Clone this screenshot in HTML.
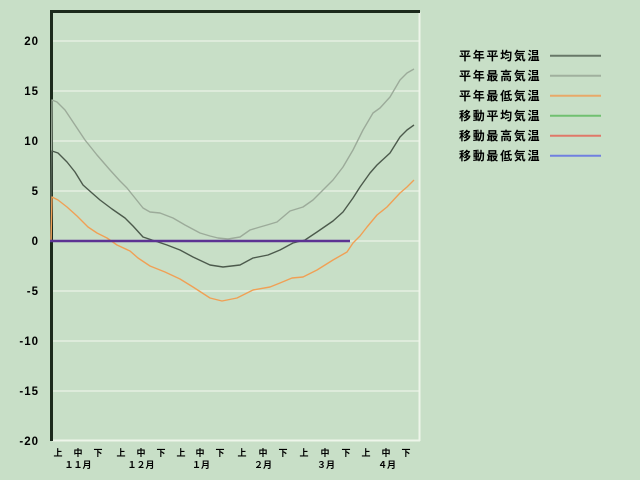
<!DOCTYPE html>
<html><head><meta charset="utf-8"><style>
html,body{margin:0;padding:0;background:#c8dfc7;}
svg{display:block;}
.y{font-family:"Liberation Sans",sans-serif;font-weight:bold;font-size:11.5px;fill:#000;letter-spacing:1px;}
.x{font-family:"Liberation Sans","Noto Sans CJK JP",sans-serif;font-weight:bold;font-size:9px;fill:#000;}
.l{font-family:"Liberation Sans","Noto Sans CJK JP",sans-serif;font-weight:bold;font-size:12px;fill:#000;letter-spacing:1.7px;}
</style></head><body>
<svg width="640" height="480" viewBox="0 0 640 480" xmlns="http://www.w3.org/2000/svg">
<rect width="640" height="480" fill="#c8dfc7"/>
<!-- gridlines -->
<g stroke="#e6efe2" stroke-width="1.6">
<line x1="52" y1="41" x2="419" y2="41"/>
<line x1="52" y1="91" x2="419" y2="91"/>
<line x1="52" y1="141" x2="419" y2="141"/>
<line x1="52" y1="191" x2="419" y2="191"/>
<line x1="52" y1="241" x2="419" y2="241"/>
<line x1="52" y1="291" x2="419" y2="291"/>
<line x1="52" y1="341" x2="419" y2="341"/>
<line x1="52" y1="391" x2="419" y2="391"/>
</g>
<!-- frame -->
<line x1="52" y1="440.5" x2="420" y2="440.5" stroke="#eef5ea" stroke-width="2"/>
<line x1="419.5" y1="12" x2="419.5" y2="441" stroke="#eef5ea" stroke-width="2"/>
<rect x="50" y="10" width="370" height="3" fill="#1c2a1c"/>
<rect x="50" y="10" width="3" height="431" fill="#1c2a1c"/>
<!-- series -->
<g fill="none" stroke-width="1.4" stroke-linejoin="round">
<path stroke="#9cab9a" d="M50,241 L51,241 L52,100 L57,102 L65,110 L75,125 L85,140 L97,155 L110,170 L120,181 L127,188 L135,198 L143,208 L150,212 L160,213 L173,218 L185,225 L200,233 L210,236 L218,238 L228,239 L240,237 L250,230 L260,227 L267,225 L277,222 L290,211 L303,207 L313,200 L323,190 L333,180 L343,167 L353,150 L363,130 L373,113 L380,108 L390,97 L400,80 L407,73 L414,69"/>
<path stroke="#4c5a4c" d="M50,241 L51,241 L52,151 L58,153 L67,162 L75,172 L83,185 L92,193 L100,200 L112,209 L125,218 L133,226 L143,237 L155,241 L167,245 L180,250 L193,257 L210,265 L223,267 L240,265 L253,258 L268,255 L280,250 L293,243 L305,240 L317,232 L333,221 L343,212 L353,198 L360,187 L370,173 L377,165 L390,153 L400,137 L407,130 L414,125"/>
<path stroke="#f0a055" d="M50,241 L51,241 L52,197 L58,200 L67,207 L77,216 L88,227 L97,233 L107,238 L117,245 L130,251 L138,258 L150,266 L165,272 L180,279 L193,287 L210,298 L222,301 L237,298 L253,290 L270,287 L280,283 L292,278 L303,277 L317,270 L333,260 L347,252 L353,243 L360,236 L367,227 L377,215 L387,207 L400,193 L407,187 L414,180"/>
</g>
<line x1="50" y1="241" x2="350" y2="241" stroke="#5c3393" stroke-width="2.5"/>
<!-- y labels -->
<g class="y" text-anchor="end">
<text x="39" y="45">20</text>
<text x="39" y="95">15</text>
<text x="39" y="145">10</text>
<text x="39" y="195">5</text>
<text x="39" y="245">0</text>
<text x="39" y="295">-5</text>
<text x="39" y="345">-10</text>
<text x="39" y="395">-15</text>
<text x="39" y="445">-20</text>
</g>
<!-- x labels -->
<g class="x" text-anchor="middle">
<text x="58" y="456">上</text><text x="78" y="456">中</text><text x="98" y="456">下</text>
<text x="121" y="456">上</text><text x="141" y="456">中</text><text x="161" y="456">下</text>
<text x="181" y="456">上</text><text x="200" y="456">中</text><text x="220" y="456">下</text>
<text x="242" y="456">上</text><text x="263" y="456">中</text><text x="283" y="456">下</text>
<text x="304" y="456">上</text><text x="325" y="456">中</text><text x="346" y="456">下</text>
<text x="366" y="456">上</text><text x="386" y="456">中</text><text x="406" y="456">下</text>
<text x="78" y="468">１１月</text>
<text x="141" y="468">１２月</text>
<text x="201" y="468">１月</text>
<text x="263" y="468">２月</text>
<text x="326" y="468">３月</text>
<text x="387" y="468">４月</text>
</g>
<!-- legend -->
<g class="l">
<text x="459" y="60">平年平均気温</text>
<text x="459" y="80">平年最高気温</text>
<text x="459" y="100">平年最低気温</text>
<text x="459" y="120">移動平均気温</text>
<text x="459" y="140">移動最高気温</text>
<text x="459" y="160">移動最低気温</text>
</g>
<g stroke-width="2">
<line x1="550" y1="55.7" x2="601" y2="55.7" stroke="#687868"/>
<line x1="550" y1="75.7" x2="601" y2="75.7" stroke="#a0b09e"/>
<line x1="550" y1="95.7" x2="601" y2="95.7" stroke="#e8a868"/>
<line x1="550" y1="115.7" x2="601" y2="115.7" stroke="#70c070"/>
<line x1="550" y1="135.7" x2="601" y2="135.7" stroke="#e07868"/>
<line x1="550" y1="155.7" x2="601" y2="155.7" stroke="#7080e0"/>
</g>
</svg>
</body></html>
